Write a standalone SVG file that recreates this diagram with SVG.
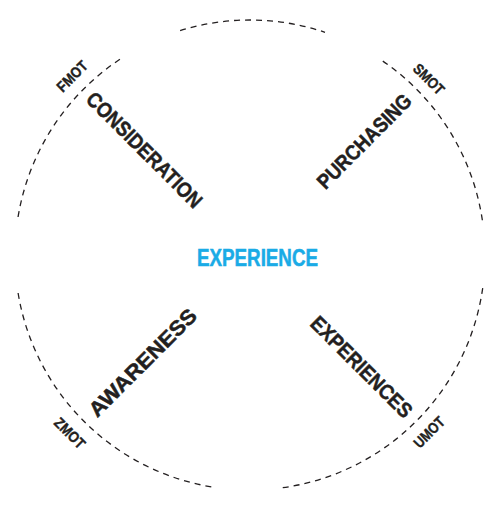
<svg xmlns="http://www.w3.org/2000/svg" width="500" height="514" viewBox="0 0 500 514">
<style>
.arc{fill:none;stroke:#231f20;stroke-width:1.3;stroke-dasharray:6 5}
.lbl{font-family:"Liberation Sans Narrow","Liberation Sans",Arial,sans-serif;font-weight:bold;fill:#231f20;stroke:#231f20;stroke-width:0.5;text-anchor:middle}
.big{font-size:21px}
.small{font-size:15px;stroke-width:0.4}
.center{font-family:"Liberation Sans Narrow","Liberation Sans",Arial,sans-serif;font-weight:bold;font-size:23px;fill:#1aabe6;stroke:#1aabe6;stroke-width:0.5;text-anchor:middle}
</style>
<rect width="500" height="514" fill="#ffffff"/>
<g id="connectors">
<path class="arc" d="M180.1,30.6 A235,235 0 0 1 325,32.3"/>
<path class="arc" d="M119.9,59.3 A235,235 0 0 0 17.6,219.9"/>
<path class="arc" d="M382.8,61.1 A235,235 0 0 1 482.5,221.1"/>
<path class="arc" d="M482.7,288.1 A235,235 0 0 1 279.9,488.1"/>
<path class="arc" d="M18.1,293 A235,235 0 0 0 214.9,487.4"/>
</g>
<g id="experience">
<text class="center" x="257.5" y="266" textLength="121" lengthAdjust="spacingAndGlyphs">EXPERIENCE</text>
</g>
<g id="consideration" transform="translate(144.6,149.6) rotate(45)">
<text class="lbl big" x="0" y="7.5" textLength="154" lengthAdjust="spacingAndGlyphs">CONSIDERATION</text>
</g>
<g id="purchasing" transform="translate(364,141) rotate(-45)">
<text class="lbl big" x="0" y="7.5" textLength="124" lengthAdjust="spacingAndGlyphs">PURCHASING</text>
</g>
<g id="awareness" transform="translate(142.5,362.5) rotate(-45)">
<text class="lbl big" x="0" y="7.5" textLength="143" lengthAdjust="spacingAndGlyphs">AWARENESS</text>
</g>
<g id="experiences" transform="translate(361.7,366.7) rotate(45)">
<text class="lbl big" x="0" y="7.5" textLength="134" lengthAdjust="spacingAndGlyphs">EXPERIENCES</text>
</g>
<g id="fmot" transform="translate(72,76) rotate(-45)">
<text class="lbl small" x="0" y="5.4" textLength="37" lengthAdjust="spacingAndGlyphs">FMOT</text>
</g>
<g id="smot" transform="translate(429,79) rotate(45)">
<text class="lbl small" x="0" y="5.4" textLength="37" lengthAdjust="spacingAndGlyphs">SMOT</text>
</g>
<g id="zmot" transform="translate(70,433) rotate(45)">
<text class="lbl small" x="0" y="5.4" textLength="37" lengthAdjust="spacingAndGlyphs">ZMOT</text>
</g>
<g id="umot" transform="translate(429,432) rotate(-45)">
<text class="lbl small" x="0" y="5.4" textLength="37" lengthAdjust="spacingAndGlyphs">UMOT</text>
</g>
</svg>
